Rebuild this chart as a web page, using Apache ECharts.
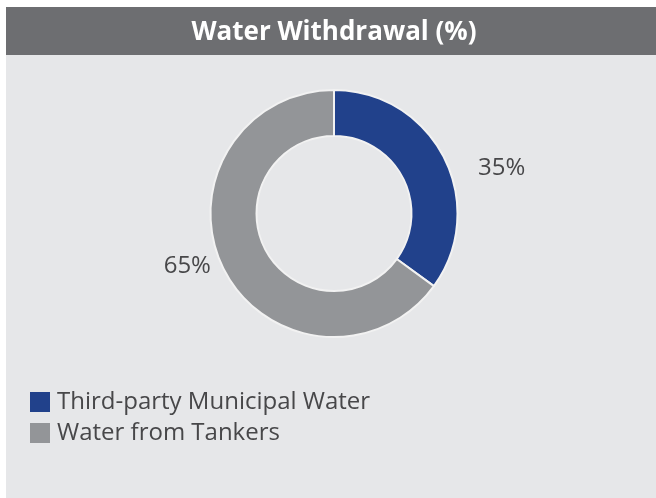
<!DOCTYPE html>
<html>
<head>
<meta charset="utf-8">
<script src="https://cdn.jsdelivr.net/npm/echarts@6/dist/echarts.min.js"></script>
<style>
html,body{margin:0;padding:0;background:#ffffff;}
#chart{width:656px;height:498px;}
</style>
</head>
<body>
<div id="chart"></div>
<script>
const titleText = 'Water Withdrawal (%)';
const categories = ['Third-party Municipal Water', 'Water from Tankers'];
const values = [35, 65];
const colors = ['#21418b', '#939598'];

const chart = echarts.init(document.getElementById('chart'));
const labelShift = [[29, 11], [-8, -3]];

chart.setOption({
  backgroundColor: '#ffffff',
  animation: false,
  graphic: [
    { type: 'rect', shape: { x: 6, y: 7, width: 650, height: 491 }, style: { fill: '#e6e7e9' }, z: -10 },
    { type: 'rect', shape: { x: 6, y: 7, width: 650, height: 48 }, style: { fill: '#6d6e71' }, z: -9 }
  ],
  title: {
    text: titleText,
    left: 334,
    textAlign: 'center',
    top: 19,
    padding: 0,
    textStyle: { color: '#ffffff', fontFamily: 'Open Sans', fontWeight: 'bold', fontSize: 26, lineHeight: 28 }
  },
  legend: {
    orient: 'vertical',
    left: 30,
    top: 390,
    padding: 0,
    itemWidth: 20,
    itemHeight: 20,
    itemGap: 7,
    icon: 'rect',
    data: categories,
    textStyle: { color: '#474749', fontFamily: 'Open Sans', fontSize: 24, lineHeight: 20, padding: [0, 0, 0, 2] },
    itemStyle: { borderWidth: 0 }
  },
  series: [{
    type: 'pie',
    center: [334, 213.5],
    radius: [77.5, 123.5],
    startAngle: 90,
    clockwise: true,
    avoidLabelOverlap: false,
    itemStyle: { borderColor: '#f2f2f2', borderWidth: 2 },
    label: {
      show: true,
      position: 'outside',
      formatter: '{c}%',
      color: '#474749',
      fontFamily: 'Open Sans',
      fontSize: 24
    },
    labelLine: { show: false, length: 0, length2: 0 },
    labelLayout: function (p) {
      const s = labelShift[p.dataIndex];
      return { dx: s[0], dy: s[1] };
    },
    emphasis: { disabled: true },
    data: categories.map((c, i) => ({ name: c, value: values[i], itemStyle: { color: colors[i] } }))
  }]
});
</script>
</body>
</html>
